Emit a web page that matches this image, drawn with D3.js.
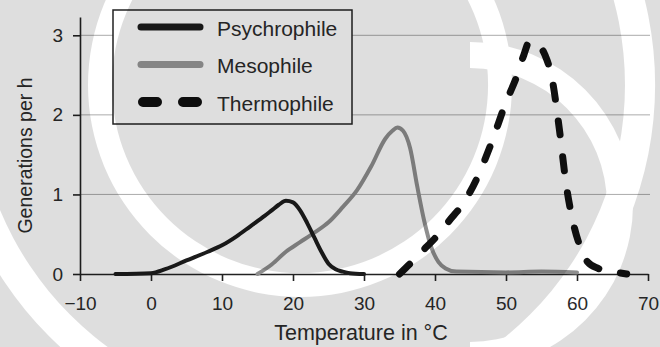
<!DOCTYPE html>
<html>
<head>
<meta charset="utf-8">
<script src="https://cdn.jsdelivr.net/npm/d3@7"></script>
<style>
  html, body { margin: 0; padding: 0; background: #fff; }
  svg { display: block; }
  text { font-family: "Liberation Sans", Arial, Helvetica, sans-serif; fill: #2b2b2b; }
</style>
</head>
<body>
<svg id="chart" width="660" height="347"></svg>
<script>
// ---- data ----
const xTicks = [-10, 0, 10, 20, 30, 40, 50, 60, 70];
const yTicks = [0, 1, 2, 3];
const seriesNames = ["Psychrophile", "Mesophile", "Thermophile"];
const xLabel = "Temperature in \u00B0C";
const yLabel = "Generations per h";

const psychroT = [-5, 0, 2, 5, 8, 10, 12, 14, 16, 17, 18, 19, 20, 21, 22, 23, 24, 25, 26, 27, 28, 30];
const psychroV = [0, 0.01, 0.06, 0.17, 0.28, 0.36, 0.47, 0.6, 0.73, 0.8, 0.87, 0.92, 0.9, 0.8, 0.64, 0.46, 0.28, 0.13, 0.06, 0.03, 0.01, 0];

const mesoT = [15, 17, 19, 21, 23, 25, 27, 29, 31, 33, 34, 34.7, 35.5, 36.5, 37.5, 38.5, 39.5, 40.5, 41.5, 43, 50, 55, 60];
const mesoV = [0, 0.12, 0.28, 0.4, 0.52, 0.65, 0.84, 1.05, 1.35, 1.7, 1.8, 1.84, 1.8, 1.58, 1.1, 0.66, 0.33, 0.15, 0.07, 0.03, 0.02, 0.03, 0.02];

const thermoT = [35, 36.5, 38, 40, 42, 44, 46, 48, 50, 51.5, 52.5, 53.3, 54.2, 55.5, 56.5, 57.5, 58.5, 59.5, 60.5, 61.5, 63, 65, 67];
const thermoV = [0, 0.13, 0.27, 0.45, 0.67, 0.89, 1.22, 1.66, 2.16, 2.48, 2.75, 2.92, 2.9, 2.75, 2.45, 1.83, 1.11, 0.63, 0.33, 0.15, 0.07, 0.03, 0];

// ---- layout ----
const svg = d3.select("#chart");
const W = 660, H = 347;
const x = d3.scaleLinear().domain([-10, 70]).range([80, 648]);
const y = d3.scaleLinear().domain([0, 3.23]).range([274, 17]);

// gridlines
svg.append("g").selectAll("line").data(yTicks.filter(d => d > 0)).join("line")
  .attr("x1", x(-10)).attr("x2", x(70) + 2)
  .attr("y1", d => y(d)).attr("y2", d => y(d))
  .attr("stroke", "#ababab").attr("stroke-width", 1);

// axes
const fmt = d3.format("d");
const xAxis = svg.append("g").attr("transform", `translate(0,${y(0)})`)
  .call(d3.axisBottom(x).tickValues(xTicks).tickFormat(fmt).tickSize(7).tickPadding(16).tickSizeOuter(0));
const yAxis = svg.append("g").attr("transform", `translate(${x(-10)},0)`)
  .call(d3.axisLeft(y).tickValues(yTicks).tickFormat(fmt).tickSize(7).tickPadding(10).tickSizeOuter(0));
[xAxis, yAxis].forEach(g => {
  g.select(".domain").attr("stroke", "#222").attr("stroke-width", 1.6);
  g.selectAll(".tick line").attr("stroke", "#222").attr("stroke-width", 1.6);
  g.selectAll(".tick text").attr("font-size", 19).attr("fill", "#2b2b2b")
    .style("font-family", "'Liberation Sans', Arial, sans-serif");
});

// axis titles
svg.append("text").attr("x", 361).attr("y", 340).attr("text-anchor", "middle")
  .attr("font-size", 21.5).text(xLabel);
svg.append("text").attr("transform", `translate(25,${(y(0) + y(3.23)) / 2 + 10}) rotate(-90)`)
  .attr("text-anchor", "middle").attr("dominant-baseline", "central")
  .attr("font-size", 19.5).text(yLabel);

// curves
const line = d3.line().x(d => x(d[0])).y(d => y(d[1])).curve(d3.curveMonotoneX);
const styles = [
  { stroke: "#1c1c1c", width: 4, dash: null, cap: "round" },
  { stroke: "#8e8e8e", width: 4, dash: null, cap: "round" },
  { stroke: "#111", width: 7, dash: "14,22", cap: "round" }
];
const series = [d3.zip(psychroT, psychroV), d3.zip(mesoT, mesoV), d3.zip(thermoT, thermoV)];
[1, 0, 2].forEach(i => {
  svg.append("path").datum(series[i]).attr("d", line)
    .attr("fill", "none").attr("stroke", styles[i].stroke)
    .attr("stroke-width", styles[i].width).attr("stroke-linecap", styles[i].cap)
    .attr("stroke-linejoin", "round")
    .attr("stroke-dasharray", styles[i].dash);
});

// legend
const lg = svg.append("g");
lg.append("rect").attr("x", 113).attr("y", 10).attr("width", 239).attr("height", 114)
  .attr("fill", "#fff").attr("stroke", "#222").attr("stroke-width", 1.5);
const legendStyles = [
  { stroke: "#1c1c1c", width: 7, dash: null, x1: 141, x2: 200 },
  { stroke: "#999", width: 7, dash: null, x1: 141, x2: 200 },
  { stroke: "#111", width: 10, dash: "14,26", x1: 143, x2: 197 }
];
seriesNames.forEach((name, i) => {
  const ry = 27 + i * 37.5;
  const s = legendStyles[i];
  lg.append("line").attr("x1", s.x1).attr("x2", s.x2).attr("y1", ry).attr("y2", ry)
    .attr("stroke", s.stroke).attr("stroke-width", s.width).attr("stroke-linecap", "round")
    .attr("stroke-dasharray", s.dash);
  lg.append("text").attr("x", 217).attr("y", ry + 1).attr("dominant-baseline", "central")
    .attr("font-size", 21).text(name);
});

// watermark (decorative overlay)
const defs = svg.append("defs");
const mask = defs.append("mask").attr("id", "wm").attr("maskUnits", "userSpaceOnUse")
  .attr("x", 0).attr("y", 0).attr("width", W).attr("height", H);
mask.append("rect").attr("width", W).attr("height", H).attr("fill", "#fff");
const rings = [
  { cx: 300, cy: 85, r: 200, w: 24, a0: 0, a1: 2 * Math.PI },
  { cx: 300, cy: 85, r: 340, w: 30, a0: 0, a1: 2 * Math.PI },
  { cx: 470, cy: 205, r: 150, w: 26, a0: 0, a1: Math.PI }
];
const ringArc = d3.arc();
mask.selectAll("path").data(rings).join("path")
  .attr("transform", d => `translate(${d.cx},${d.cy})`)
  .attr("d", d => ringArc({ innerRadius: d.r - d.w / 2, outerRadius: d.r + d.w / 2, startAngle: d.a0, endAngle: d.a1 }))
  .attr("fill", "#000");
svg.append("rect").attr("width", W).attr("height", H)
  .attr("fill", "#000").attr("fill-opacity", 0.13).attr("mask", "url(#wm)")
  .attr("pointer-events", "none");
</script>
</body>
</html>
